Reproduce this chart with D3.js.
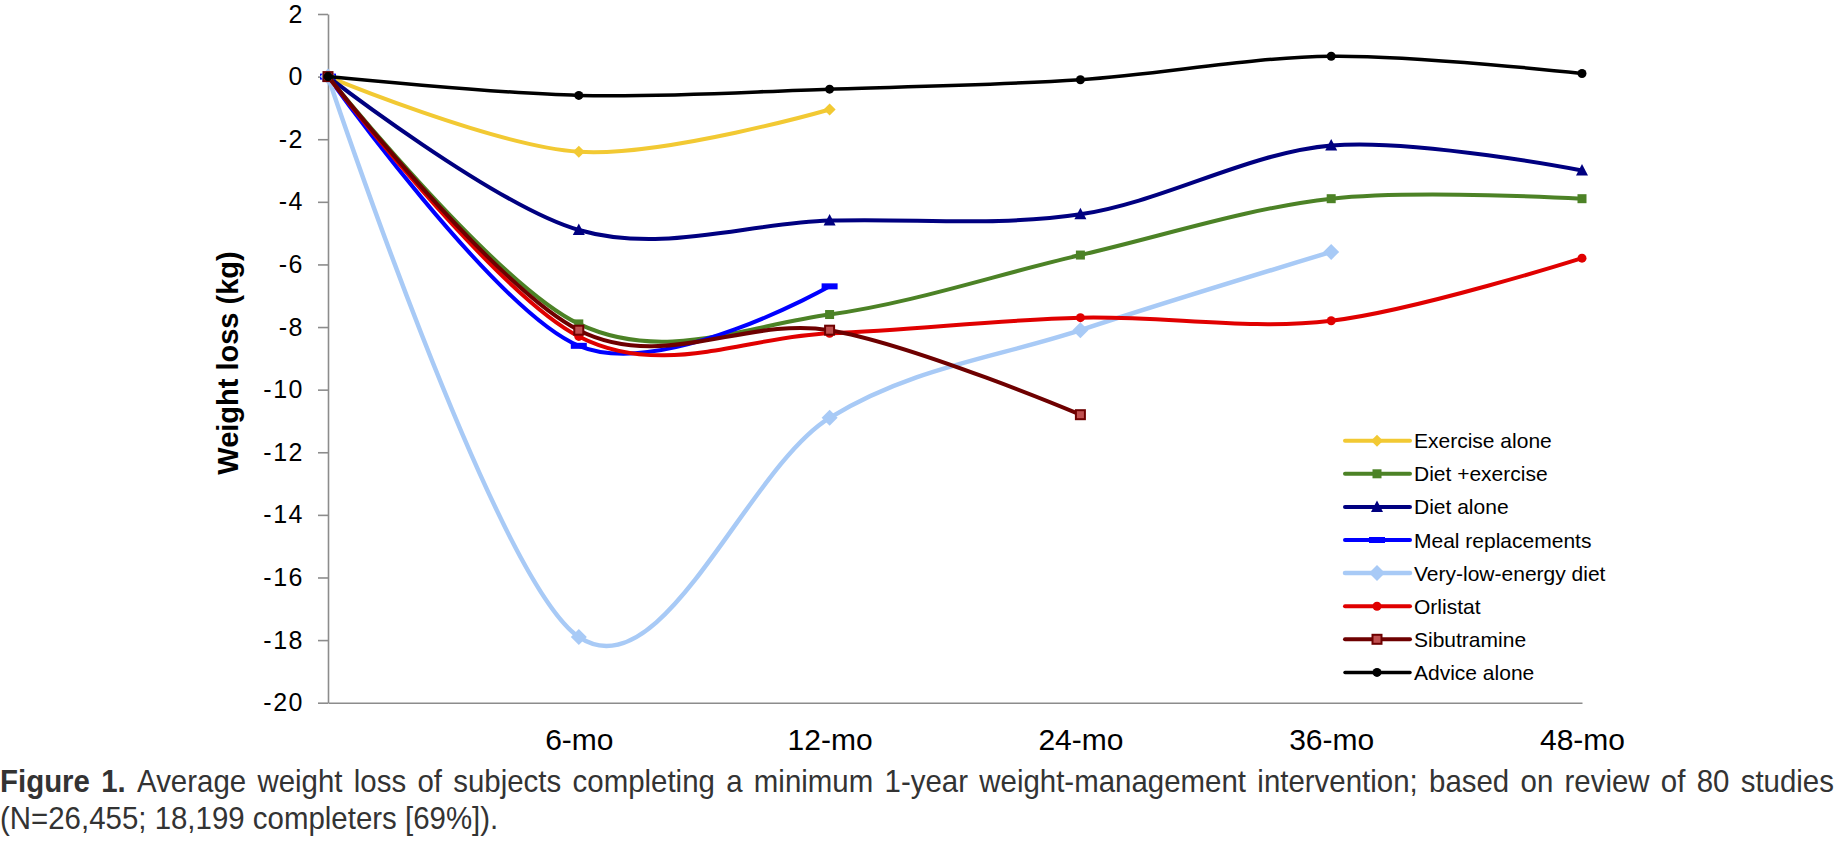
<!DOCTYPE html>
<html><head><meta charset="utf-8">
<script src="https://cdn.jsdelivr.net/npm/d3@7"></script>
<style>body{margin:0;background:#fff} svg{display:block}</style>
</head><body>
<script>
// ---------- data ----------
const categories = ["", "6-mo", "12-mo", "24-mo", "36-mo", "48-mo"];
const yTicks = [2, 0, -2, -4, -6, -8, -10, -12, -14, -16, -18, -20];
const seriesNames = ["Exercise alone", "Diet +exercise", "Diet alone", "Meal replacements",
  "Very-low-energy diet", "Orlistat", "Sibutramine", "Advice alone"];
const exerciseAlone     = [0, -2.4, -1.05];
const dietExercise      = [0, -7.9, -7.6, -5.7, -3.9, -3.9];
const dietAlone         = [0, -4.9, -4.6, -4.4, -2.2, -3.0];
const mealReplacements  = [0, -8.6, -6.7];
const veryLowEnergyDiet = [0, -17.9, -10.9, -8.1, -5.6];
const orlistat          = [0, -8.3, -8.2, -7.7, -7.8, -5.8];
const sibutramine       = [0, -8.1, -8.1, -10.8];
const adviceAlone       = [0, -0.6, -0.4, -0.1, 0.65, 0.1];
const captionLine1 = "Average weight loss of subjects completing a minimum 1-year weight-management intervention; based on review of 80 studies";
const captionLine2 = "(N=26,455; 18,199 completers [69%]).";

// ---------- styles ----------
const styles = [
  {color:"#F2C933", marker:"diamond", w:4},
  {color:"#4C8226", marker:"square", w:4},
  {color:"#000080", marker:"triangle", w:4},
  {color:"#0000FF", marker:"dash", w:4},
  {color:"#A8CAF6", marker:"bigdiamond", w:4.5},
  {color:"#E00000", marker:"circle", w:4},
  {color:"#6E0000", marker:"hollowsquare", w:4},
  {color:"#000000", marker:"circle", w:3.5}
];
const values = [exerciseAlone, dietExercise, dietAlone, mealReplacements, veryLowEnergyDiet, orlistat, sibutramine, adviceAlone];
const series = seriesNames.map((n,i)=>({name:n, values:values[i], ...styles[i]}));

const W = 1836, H = 841;
const svg = d3.select("body").append("svg").attr("width", W).attr("height", H);

const x = d3.scalePoint().domain(categories).range([328, 1582]);
const y = d3.scaleLinear().domain([-20, 2]).range([702.7, 14]);

// y axis
const gy = svg.append("g").attr("transform", "translate(328,0)")
  .call(d3.axisLeft(y).tickValues(yTicks).tickSize(10).tickSizeOuter(0).tickPadding(14).tickFormat(d => String(d)));
gy.select(".domain").attr("stroke", "#8c8c8c").attr("stroke-width", 1.6);
gy.selectAll(".tick line").attr("stroke", "#8c8c8c").attr("stroke-width", 1.6);
gy.selectAll(".tick text").attr("font-family", "Liberation Sans, Arial, sans-serif")
  .attr("font-size", 25).attr("fill", "#000").attr("letter-spacing", 1.5);

// x axis
const gx = svg.append("g").attr("transform", "translate(0,702.7)")
  .call(d3.axisBottom(x).tickSize(0).tickSizeOuter(0).tickPadding(26));
gx.select(".domain").attr("stroke", "#8c8c8c").attr("stroke-width", 1.6);
gx.selectAll(".tick text").attr("font-family", "Liberation Sans, Arial, sans-serif")
  .attr("font-size", 30).attr("fill", "#000");

// y title
svg.append("text").attr("transform", "translate(238,363) rotate(-90)")
  .attr("text-anchor", "middle").attr("font-family", "Liberation Sans, Arial, sans-serif")
  .attr("font-weight", "bold").attr("font-size", 29).text("Weight loss (kg)");

// markers
function drawMarker(g, type, color, cx, cy) {
  switch (type) {
    case "diamond":
      g.append("path").attr("d", `M${cx},${cy-6}L${cx+6},${cy}L${cx},${cy+6}L${cx-6},${cy}Z`).attr("fill", color); break;
    case "bigdiamond":
      g.append("path").attr("d", `M${cx},${cy-8}L${cx+8},${cy}L${cx},${cy+8}L${cx-8},${cy}Z`).attr("fill", color); break;
    case "square":
      g.append("rect").attr("x", cx-4.5).attr("y", cy-4.5).attr("width", 9).attr("height", 9).attr("fill", color); break;
    case "triangle":
      g.append("path").attr("d", `M${cx},${cy-6.5}L${cx+6},${cy+5}L${cx-6},${cy+5}Z`).attr("fill", color); break;
    case "dash":
      g.append("rect").attr("x", cx-8).attr("y", cy-3).attr("width", 16).attr("height", 6).attr("fill", color); break;
    case "circle":
      g.append("circle").attr("cx", cx).attr("cy", cy).attr("r", 4.5).attr("fill", color); break;
    case "hollowsquare":
      g.append("rect").attr("x", cx-4.5).attr("y", cy-4.5).attr("width", 9).attr("height", 9)
        .attr("fill", "#c05050").attr("stroke", color).attr("stroke-width", 2); break;
  }
}

const line = d3.line().x((d,i)=>x(categories[i])).y(d=>y(d)).curve(d3.curveCardinal.tension(0));
const plot = svg.append("g");
series.forEach(s => {
  const g = plot.append("g");
  g.append("path").attr("d", line(s.values)).attr("fill", "none").attr("stroke", s.color)
    .attr("stroke-width", s.w).attr("stroke-linejoin", "round").attr("stroke-linecap", "round");
  s.values.forEach((v,i) => drawMarker(g, s.marker, s.color, x(categories[i]), y(v)));
});

// legend
const lg = svg.append("g");
series.forEach((s,i) => {
  const cy = 440.7 + i*33.1;
  lg.append("line").attr("x1", 1345).attr("x2", 1410).attr("y1", cy).attr("y2", cy)
    .attr("stroke", s.color).attr("stroke-width", s.w).attr("stroke-linecap", "round");
  drawMarker(lg, s.marker, s.color, 1377, cy);
  lg.append("text").attr("x", 1414).attr("y", cy + 7.5).attr("font-family", "Liberation Sans, Arial, sans-serif")
    .attr("font-size", 21).attr("fill", "#000").text(s.name);
});

// caption
const capFont = "Liberation Sans, Arial, sans-serif";
const capSize = 31, squeeze = 0.95, capColor = "#333";
const cap = svg.append("g").attr("fill", capColor).attr("font-family", capFont).attr("font-size", capSize);
const words1 = [{t:"Figure", b:true}, {t:"1.", b:true}].concat(captionLine1.split(" ").map(t=>({t, b:false})));
const nodes = words1.map(w => {
  const n = cap.append("text").attr("font-weight", w.b ? "bold" : "normal").text(w.t);
  return {n, w: n.node().getComputedTextLength() * squeeze};
});
const total = d3.sum(nodes, d=>d.w);
const gap = (W - 2 - total) / (nodes.length - 1);
let cx = 0;
nodes.forEach(d => {
  d.n.attr("transform", `translate(${cx},792) scale(${squeeze},1)`);
  cx += d.w + gap;
});
cap.append("text").attr("transform", `translate(0,829) scale(${squeeze},1)`).text(captionLine2);
</script>
</body></html>
